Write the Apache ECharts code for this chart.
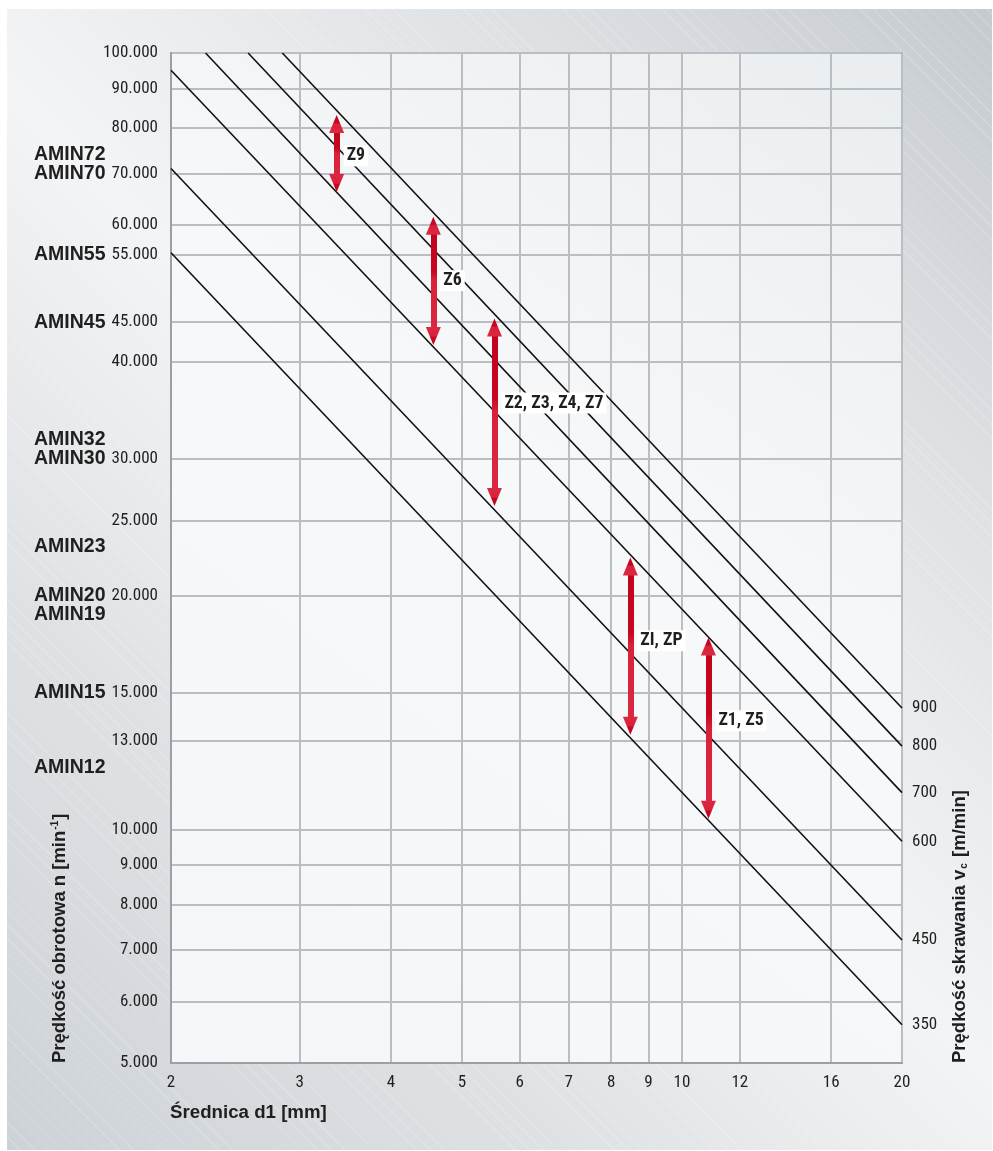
<!DOCTYPE html>
<html>
<head>
<meta charset="utf-8">
<script src="https://cdn.jsdelivr.net/npm/echarts@6/dist/echarts.min.js"></script>
<style>
html,body{margin:0;padding:0;background:#ffffff;}
#card{position:absolute;left:7px;top:9px;width:985px;height:1141px;
 background:
  repeating-linear-gradient(45deg, rgba(255,255,255,0) 0px, rgba(255,255,255,0) 9px, rgba(255,255,255,0.16) 9px, rgba(255,255,255,0.16) 10px),
  linear-gradient(225deg,#c5cacf 0%,#dde0e3 22%,#f3f4f5 50%,#dfe2e5 73%,#cdd2d6 100%);}
#chart{position:absolute;left:0;top:0;width:993px;height:1151px;}
</style>
</head>
<body>
<div id="card"></div>
<div id="chart"></div>
<script>
// ---- data ----
const diameterTicks = [2, 3, 4, 5, 6, 7, 8, 9, 10, 12, 16, 20];
const speedTicks = [5000, 6000, 7000, 8000, 9000, 10000, 13000, 15000, 20000, 25000, 30000, 40000, 45000, 55000, 60000, 70000, 80000, 90000, 100000];
const cuttingSpeeds = [350, 450, 600, 700, 800, 900];
const line350 = [[2, 55300], [20, 5600]];
const line450 = [[2, 71000], [20, 7200]];
const line600 = [[2, 95000], [20, 9650]];
const line700 = [[2.23, 100000], [20, 11150]];
const line800 = [[2.55, 100000], [20, 12800]];
const line900 = [[2.84, 100000], [20, 14330]];
const arrowNames = ['Z9', 'Z6', 'Z2, Z3, Z4, Z7', 'ZI, ZP', 'Z1, Z5'];
const arrowDiameter = [3.37, 4.57, 5.54, 8.5, 10.87];
const arrowTop = [81000, 59900, 44300, 21800, 17200];
const arrowBottom = [68000, 43200, 26800, 13600, 10600];
const arrowLabelSpeed = [73700, 50900, 35400, 17500, 13800];
const aminNames = ['AMIN12', 'AMIN15', 'AMIN19', 'AMIN20', 'AMIN23', 'AMIN30', 'AMIN32', 'AMIN45', 'AMIN55', 'AMIN70', 'AMIN72'];
const aminSpeeds = [12000, 15000, 18900, 20000, 23100, 30000, 31800, 45000, 55000, 70000, 74000];

// ---- font selection (condensed face if one is available) ----
const probe = document.createElement('canvas').getContext('2d');
const canStretch = ('fontStretch' in probe);
function measure(font, stretch, txt) {
  probe.font = font;
  if (canStretch) probe.fontStretch = stretch || 'normal';
  return probe.measureText(txt || '100.000 Z2, Z3 abc').width;
}
function hasFamily(name) {
  return measure("50px '" + name + "', monospace") !== measure('50px monospace') ||
         measure("50px '" + name + "', serif") !== measure('50px serif');
}
let NARROW_FAMILY = null, STRETCH = null;
const narrowNames = ['Liberation Sans Narrow', 'Arial Narrow', 'Nimbus Sans Narrow', 'Roboto Condensed', 'Noto Sans Condensed', 'Open Sans Condensed', 'DejaVu Sans Condensed'];
for (const n of narrowNames) { if (hasFamily(n)) { NARROW_FAMILY = n; break; } }
if (!NARROW_FAMILY && canStretch) {
  const stretchNames = ['Roboto', 'Noto Sans', 'Open Sans', 'DejaVu Sans'];
  for (const n of stretchNames) {
    if (!hasFamily(n)) continue;
    const a = measure("50px '" + n + "'", 'normal');
    const b = measure("50px '" + n + "'", 'condensed');
    if (b < a * 0.95) { NARROW_FAMILY = n; STRETCH = 'condensed'; break; }
  }
}
if (!NARROW_FAMILY) NARROW_FAMILY = 'Roboto';
if (STRETCH) {
  const desc = Object.getOwnPropertyDescriptor(CanvasRenderingContext2D.prototype, 'font');
  Object.defineProperty(CanvasRenderingContext2D.prototype, 'font', {
    configurable: true,
    get() { return desc.get.call(this); },
    set(v) {
      desc.set.call(this, v);
      this.fontStretch = (String(v).indexOf(NARROW_FAMILY) >= 0) ? STRETCH : 'normal';
    }
  });
}
const NARROW = "'" + NARROW_FAMILY + "', 'Roboto', sans-serif";
function fitSize(txt, bold, targetW, lo, hi) {
  const w = measure((bold ? 'bold ' : '') + "100px " + NARROW, STRETCH || 'normal', txt);
  return Math.max(lo, Math.min(hi, targetW * 100 / w));
}
const TICK_SIZE = fitSize('10.000', false, 46.5, 15.8, 17.5);
const ZLABEL_SIZE = fitSize('Z2, Z3, Z4, Z7', true, 99, 16, 19);

const BOLD = "'Liberation Sans', 'Arial', sans-serif";
const TXT = '#1f1f1f';
const lineSets = [line350, line450, line600, line700, line800, line900];

function fmtThousands(v) {
  const r = Math.round(v);
  return String(r).replace(/\B(?=(\d{3})+(?!\d))/g, '.');
}
function nearestName(v) {
  let best = 0, bd = Infinity;
  for (let i = 0; i < aminSpeeds.length; i++) {
    const d = Math.abs(Math.log(aminSpeeds[i]) - Math.log(v));
    if (d < bd) { bd = d; best = i; }
  }
  return aminNames[best];
}
// neighbouring AMIN labels sit very close together: spread them over two
// label-only axes (alternating) so the library does not drop either one
const aminSetA = aminSpeeds.filter((v, i) => i % 2 === 1);
const aminSetB = aminSpeeds.filter((v, i) => i % 2 === 0);
function aminAxis(values) {
  return {
    type: 'log',
    logBase: 10,
    min: 5000,
    max: 100000,
    position: 'left',
    axisLine: {show: false},
    axisTick: {show: false, customValues: values},
    axisLabel: {
      customValues: values,
      hideOverlap: false,
      showMinLabel: true,
      showMaxLabel: true,
      formatter: v => nearestName(v),
      align: 'left',
      margin: 137,
      color: TXT,
      fontFamily: BOLD,
      fontWeight: 'bold',
      fontSize: 19.5
    },
    splitLine: {show: false}
  };
}

const chart = echarts.init(document.getElementById('chart'), null, {renderer: 'canvas'});

const series = lineSets.map((pts, i) => ({
  type: 'line',
  name: String(cuttingSpeeds[i]),
  data: pts,
  symbol: 'none',
  silent: true,
  z: 3,
  lineStyle: {color: '#111111', width: 1.6},
  endLabel: {
    show: true,
    formatter: String(cuttingSpeeds[i]),
    distance: 10,
    color: TXT,
    fontFamily: NARROW,
    fontSize: TICK_SIZE
  }
}));

series.push({
  type: 'line',
  name: 'arrows',
  data: [],
  symbol: 'none',
  silent: true,
  z: 4,
  markLine: {
    silent: true,
    animation: false,
    symbol: ['triangle', 'triangle'],
    symbolSize: [15, 18],
    label: {show: false},
    emphasis: {disabled: true},
    lineStyle: {
      width: 6, type: 'solid', opacity: 1,
      color: {
        type: 'linear', x: 0, y: 0, x2: 0, y2: 1,
        colorStops: [
          {offset: 0, color: '#c2021e'},
          {offset: 0.42, color: '#c7061f'},
          {offset: 0.5, color: '#d8223c'},
          {offset: 1, color: '#dc2842'}
        ]
      }
    },
    itemStyle: {color: '#d01630'},
    data: arrowNames.map((n, i) => [
      {coord: [arrowDiameter[i], arrowTop[i]], itemStyle: {color: '#c2021e'}},
      {coord: [arrowDiameter[i], arrowBottom[i]], itemStyle: {color: '#d8243e'}}
    ])
  }
});

series.push({
  type: 'scatter',
  name: 'arrowLabels',
  silent: true,
  z: 5,
  symbolSize: 0,
  itemStyle: {opacity: 1, color: '#ffffff'},
  emphasis: {disabled: true},
  labelLayout: {hideOverlap: false},
  data: arrowNames.map((n, i) => ({name: n, value: [arrowDiameter[i], arrowLabelSpeed[i]]})),
  label: {
    show: true,
    position: 'right',
    distance: 7,
    formatter: '{b}',
    backgroundColor: '#ffffff',
    padding: [2, 3, 1, 3],
    color: TXT,
    opacity: 1,
    fontFamily: NARROW,
    fontWeight: 'bold',
    fontSize: ZLABEL_SIZE
  }
});

const option = {
  backgroundColor: 'transparent',
  animation: false,
  grid: {
    left: 171, right: 91, top: 53, bottom: 88,
    show: true,
    borderColor: '#9aa0a6',
    borderWidth: 2,
    backgroundColor: {
      type: 'linear', x: 1, y: 0, x2: 0, y2: 1,
      colorStops: [
        {offset: 0, color: '#eaedef'},
        {offset: 0.45, color: '#f7f8f9'},
        {offset: 1, color: '#f5f6f7'}
      ]
    }
  },
  xAxis: {
    type: 'log',
    logBase: 10,
    min: 2,
    max: 20,
    axisLine: {show: true, lineStyle: {color: '#9aa0a6', width: 2}},
    axisTick: {show: false, customValues: diameterTicks},
    axisLabel: {
      customValues: diameterTicks,
      hideOverlap: false,
      showMinLabel: true,
      showMaxLabel: true,
      formatter: v => String(Math.round(v)),
      margin: 11,
      color: TXT,
      fontFamily: NARROW,
      fontSize: TICK_SIZE
    },
    splitLine: {show: true, lineStyle: {color: '#b8bec4', width: 2}},
    minorSplitLine: {show: false}
  },
  yAxis: [
    {
      type: 'log',
      logBase: 10,
      min: 5000,
      max: 100000,
      axisLine: {show: true, lineStyle: {color: '#9aa0a6', width: 2}},
      axisTick: {show: false, customValues: speedTicks},
      axisLabel: {
        customValues: speedTicks,
        hideOverlap: false,
        showMinLabel: true,
        showMaxLabel: true,
        formatter: v => fmtThousands(v),
        margin: 13,
        color: TXT,
        fontFamily: NARROW,
        fontSize: TICK_SIZE
      },
      splitLine: {show: true, lineStyle: {color: '#b8bec4', width: 2}}
    },
    aminAxis(aminSetA),
    aminAxis(aminSetB)
  ],
  graphic: [
    {
      type: 'text',
      x: 170, y: 1113,
      silent: true,
      style: {
        text: 'Średnica d1 [mm]',
        font: "bold 18.7px 'Liberation Sans', Arial, sans-serif",
        fill: TXT,
        align: 'left',
        verticalAlign: 'middle'
      }
    },
    {
      type: 'text',
      x: 60, y: 1063,
      rotation: Math.PI / 2,
      silent: true,
      style: {
        text: 'Prędkość obrotowa n [min{sup|-1}]',
        font: "bold 18.5px 'Liberation Sans', Arial, sans-serif",
        fill: TXT,
        align: 'left',
        verticalAlign: 'middle',
        rich: {
          sup: {fontSize: 10, fontWeight: 'bold', fontFamily: BOLD, fill: TXT, verticalAlign: 'top', padding: [0, 1, 8, 1]}
        }
      }
    },
    {
      type: 'text',
      x: 960, y: 1063,
      rotation: Math.PI / 2,
      silent: true,
      style: {
        text: 'Prędkość skrawania v{sub|c} [m/min]',
        font: "bold 18.5px 'Liberation Sans', Arial, sans-serif",
        fill: TXT,
        align: 'left',
        verticalAlign: 'middle',
        rich: {
          sub: {fontSize: 10, fontWeight: 'bold', fontFamily: BOLD, fill: TXT, verticalAlign: 'bottom', padding: [6, 1, 0, 1]}
        }
      }
    }
  ],
  series: series
};

chart.setOption(option);
</script>
</body>
</html>
